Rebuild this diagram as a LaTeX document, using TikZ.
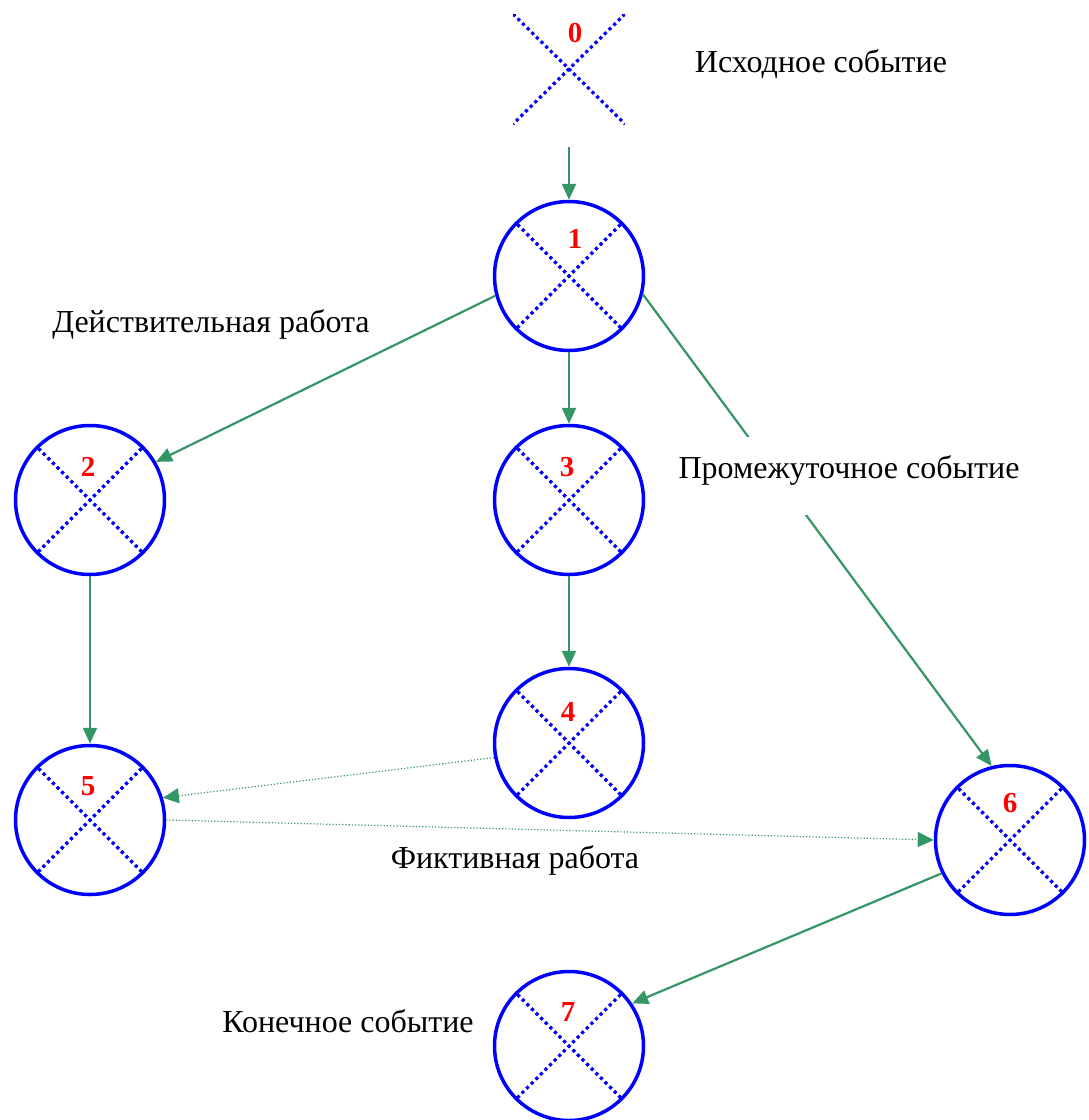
\documentclass[tikz,border=0pt]{standalone}
\usepackage{fontspec}
\setmainfont{Liberation Serif}
\usetikzlibrary{arrows.meta}
\definecolor{arrowgreen}{RGB}{51,150,100}
\begin{document}
\begin{tikzpicture}[x=1pt,y=-1pt,
  crossdots/.style={blue, line width=3.2pt, dash pattern=on 3.2pt off 3.3pt},
  ev/.style={circle, draw=blue, line width=3.5pt, minimum size=149pt, inner sep=0pt,
    path picture={\draw[crossdots] (path picture bounding box.north west) -- (path picture bounding box.south east)
      (path picture bounding box.north east) -- (path picture bounding box.south west);}},
  startev/.style={rectangle, draw=none, minimum width=112pt, minimum height=110pt, inner sep=0pt,
    path picture={\draw[crossdots] (path picture bounding box.north west) -- (path picture bounding box.south east)
      (path picture bounding box.north east) -- (path picture bounding box.south west);}},
  num/.style={text=red, font=\fontsize{29}{33}\selectfont\bfseries, inner sep=0pt},
  txt/.style={font=\fontsize{32}{38}\selectfont, inner sep=0pt, anchor=base},
  work/.style={draw=arrowgreen, line width=2.2pt, -{Triangle[length=16pt,width=14pt]}},
  dummy/.style={draw=arrowgreen, line width=1.2pt, dash pattern=on 1.2pt off 2pt, -{Triangle[length=16pt,width=15pt]}}
]
\useasboundingbox (0,0) rectangle (1088,1120);

\node[startev] (n0) at (569,69) {};
\node[ev] (n1) at (569,276) {};
\node[ev] (n2) at (90,500) {};
\node[ev] (n3) at (569,500) {};
\node[ev] (n4) at (569,743) {};
\node[ev] (n5) at (90,820) {};
\node[ev] (n6) at (1010,840) {};
\node[ev] (n7) at (569,1046) {};

\node[num] (l0) at (575,33) {0};
\node[num] (l1) at (575,239) {1};
\node[num] (l2) at (88,467) {2};
\node[num] (l3) at (567,467) {3};
\node[num] (l4) at (568,712) {4};
\node[num] (l5) at (88,786) {5};
\node[num] (l6) at (1010,803) {6};
\node[num] (l7) at (568,1012) {7};

\draw[work, shorten <=23pt] (n0.south) -- (n1.north);
\draw[work] (n1.195) -- (n2.30);
\draw[work] (n1.south) -- (n3.north);
\draw[work] (n1.346) -- (n6.104);
\draw[work] (n2.south) -- (n5.north);
\draw[work] (n3.south) -- (n4.north);
\draw[dummy] (n4.191) -- (n5.17);
\draw[dummy] (n5.east) -- (n6.west);
\draw[work] (n6.206) -- (n7.34);

\node[txt] (t0) at (821,72) {Исходное событие};
\node[txt] (t1) at (211,332) {Действительная работа};
\node[txt, fill=white, inner xsep=3pt, text height=41pt, text depth=37pt] (t2) at (849,478) {Промежуточное событие};
\node[txt] (t3) at (515,868) {Фиктивная работа};
\node[txt] (t4) at (348,1032) {Конечное событие};
\end{tikzpicture}
\end{document}
